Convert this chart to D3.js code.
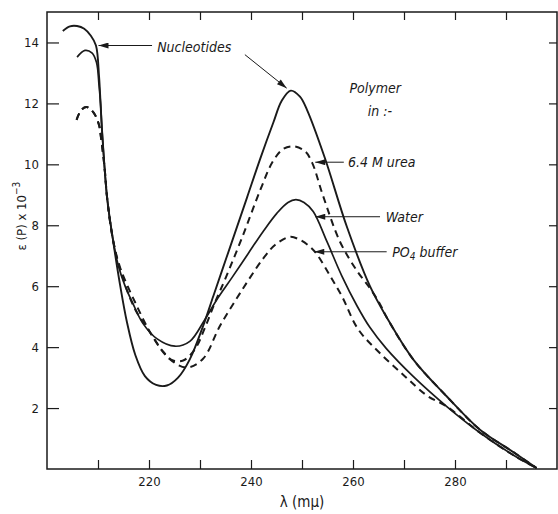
<!DOCTYPE html>
<html>
<head>
<meta charset="utf-8">
<script src="https://cdn.jsdelivr.net/npm/d3@7"></script>
<style>
    body { margin: 0; background: #fff; }
    svg { display: block; }
    text { font-family: "DejaVu Sans Condensed", "Liberation Sans Narrow", sans-serif; fill: #1a1a1a; }
</style>
</head>
<body>
<div id="chart"></div>
<script>
// wavelength (mμ) ticks and epsilon ticks
const wavelengthTicks = [210, 220, 230, 240, 250, 260, 270, 280, 290];
const wavelengthLabels = [220, 240, 260, 280];
const epsilonTicks = [2, 4, 6, 8, 10, 12, 14];

// [wavelength, ε(P) x 10^-3]
const nucleotides = [
    [203.1, 14.38], [204.5, 14.53], [205.9, 14.54], [207.3, 14.45], [208.6, 14.22],
    [209.6, 13.9], [210.2, 12.9], [210.5, 12.0], [210.8, 11.09], [211.8, 8.88], [212.9, 7.56],
    [214.3, 6.07], [215.7, 4.80], [217.3, 3.75], [219.2, 3.05], [221.4, 2.76],
    [223.5, 2.74], [225.7, 3.00], [228.0, 3.60], [230.6, 4.69], [232.6, 5.67],
    [234.5, 6.60], [236.2, 7.43], [239.2, 8.90], [241.8, 10.18], [244.4, 11.38],
    [246.0, 12.08], [247.8, 12.42], [249.6, 12.22], [251.0, 11.78], [254.5, 10.20],
    [258.8, 7.95], [263.3, 6.01], [266.6, 4.98], [271.8, 3.60], [278.4, 2.38],
    [284.9, 1.29], [291.4, 0.56], [296.0, 0.03]
];

const water = [
    [205.9, 13.52], [207.45, 13.74], [208.8, 13.66], [209.7, 13.35], [210.2, 12.6], [210.5, 12.0],
    [210.8, 11.09], [211.8, 8.88], [212.9, 7.56], [213.9, 6.73], [215.3, 6.01],
    [216.9, 5.41], [218.8, 4.78], [221.6, 4.27], [225.1, 4.03], [228.0, 4.19],
    [231.0, 4.92], [233.5, 5.61], [236.3, 6.29], [239.4, 7.06], [242.35, 7.79],
    [245.1, 8.40], [247.25, 8.75], [248.8, 8.84], [250.4, 8.75], [252.2, 8.45],
    [254.9, 7.46], [257.8, 6.34], [260.8, 5.35], [263.3, 4.65], [266.5, 3.96],
    [271.8, 3.04], [278.4, 2.05], [284.9, 1.19], [291.4, 0.46], [296.0, 0.03]
];

const urea = [
    [205.8, 11.46], [206.7, 11.78], [207.8, 11.88], [209.2, 11.68], [210.2, 11.29],
    [210.6, 10.86], [211.3, 9.87], [211.8, 8.88], [212.9, 7.56], [214.3, 6.57],
    [217.25, 5.25], [220.2, 4.49], [222.75, 3.86], [224.7, 3.56], [226.7, 3.56],
    [229.0, 3.93], [231.0, 4.65], [232.9, 5.45], [235.1, 6.30], [238.4, 7.66],
    [241.8, 9.15], [244.3, 10.10], [246.3, 10.50], [248.4, 10.59], [250.6, 10.43],
    [252.0, 10.05], [254.1, 8.98], [257.45, 7.46], [260.8, 6.50], [263.3, 5.94],
    [265.3, 5.41], [266.6, 4.98], [271.8, 3.60], [278.4, 2.38], [284.9, 1.29],
    [291.4, 0.56], [296.0, 0.03]
];

const phosphateBuffer = [
    [205.8, 11.46], [206.7, 11.78], [207.8, 11.88], [209.2, 11.68], [210.2, 11.29],
    [210.6, 10.86], [211.3, 9.87], [211.8, 8.88], [212.9, 7.56], [214.3, 6.63],
    [217.25, 5.48], [220.8, 4.32], [224.1, 3.60], [227.45, 3.33], [230.6, 3.62],
    [233.9, 4.69], [238.0, 5.81], [242.35, 6.90], [244.7, 7.35], [247.65, 7.62],
    [249.6, 7.52], [251.6, 7.29], [252.9, 7.05], [255.5, 6.34], [257.8, 5.68],
    [261.0, 4.59], [265.3, 3.80], [270.2, 3.04], [274.5, 2.41], [278.4, 2.05],
    [284.9, 1.19], [291.4, 0.46], [296.0, 0.03]
];

const width = 558;
const height = 514;
const margin = { top: 12, right: 1, bottom: 45, left: 47 };

const svg = d3.select("#chart").append("svg")
    .attr("width", width)
    .attr("height", height);

const x = d3.scaleLinear()
    .domain([200, 300])
    .range([margin.left, width - margin.right]);

const y = d3.scaleLinear()
    .domain([0, 15])
    .range([height - margin.bottom, margin.top]);

const ink = "#1a1a1a";

// frame
svg.append("rect")
    .attr("x", x(200))
    .attr("y", y(15))
    .attr("width", x(300) - x(200))
    .attr("height", y(0) - y(15))
    .attr("fill", "none")
    .attr("stroke", ink)
    .attr("stroke-width", 1.5);

svg.append("g")
    .attr("transform", `translate(0, ${y(0)})`)
    .call(d3.axisBottom(x).tickValues(wavelengthTicks).tickSize(-9).tickPadding(8)
        .tickFormat((d) => wavelengthLabels.includes(d) ? d : ""));

svg.append("g")
    .attr("transform", `translate(0, ${y(15)})`)
    .call(d3.axisTop(x).tickValues(wavelengthTicks).tickSize(-8).tickFormat(""));

svg.append("g")
    .attr("transform", `translate(${x(200)}, 0)`)
    .call(d3.axisLeft(y).tickValues(epsilonTicks).tickSize(-12).tickPadding(8));

svg.append("g")
    .attr("transform", `translate(${x(300)}, 0)`)
    .call(d3.axisRight(y).tickValues(epsilonTicks).tickSize(-8).tickFormat(""));

svg.selectAll(".domain").remove();
svg.selectAll(".tick line").attr("stroke", ink).attr("stroke-width", 1.2);
svg.selectAll(".tick text")
    .attr("font-size", 13)
    .attr("fill", ink)
    .style("font-family", "'DejaVu Sans Condensed', sans-serif");

// curves
const line = d3.line()
    .x((d) => x(d[0]))
    .y((d) => y(d[1]))
    .curve(d3.curveCatmullRom.alpha(0.5));

const series = [
    { data: water, dash: null, width: 1.7 },
    { data: phosphateBuffer, dash: "7,5", width: 2 },
    { data: urea, dash: "7,5", width: 2 },
    { data: nucleotides, dash: null, width: 1.9 }
];

svg.append("g")
    .selectAll("path")
    .data(series)
    .join("path")
    .attr("d", (d) => line(d.data))
    .attr("fill", "none")
    .attr("stroke", ink)
    .attr("stroke-width", (d) => d.width)
    .attr("stroke-dasharray", (d) => d.dash)
    .attr("stroke-linecap", "butt");

// arrow annotations
svg.append("defs").append("marker")
    .attr("id", "arrow")
    .attr("viewBox", "0 0 10 6")
    .attr("refX", 10)
    .attr("refY", 3)
    .attr("markerWidth", 11)
    .attr("markerHeight", 6)
    .attr("markerUnits", "userSpaceOnUse")
    .attr("orient", "auto")
    .append("path")
    .attr("d", "M0,0L10,3L0,6Z")
    .attr("fill", ink);

const arrows = [
    [[220.6, 13.9], [210.1, 13.9]],
    [[238.8, 13.6], [247.0, 12.5]],
    [[258.2, 10.07], [252.6, 10.07]],
    [[265.3, 8.28], [252.6, 8.28]],
    [[266.6, 7.13], [252.4, 7.13]]
];

svg.append("g")
    .selectAll("line")
    .data(arrows)
    .join("line")
    .attr("x1", (d) => x(d[0][0]))
    .attr("y1", (d) => y(d[0][1]))
    .attr("x2", (d) => x(d[1][0]))
    .attr("y2", (d) => y(d[1][1]))
    .attr("stroke", ink)
    .attr("stroke-width", 1)
    .attr("marker-end", "url(#arrow)");

const note = svg.append("g")
    .attr("font-size", 14)
    .attr("font-style", "italic");

note.append("text").attr("x", x(221.6)).attr("y", y(13.7)).text("Nucleotides");
note.append("text").attr("x", x(259.3)).attr("y", y(12.35)).text("Polymer");
note.append("text").attr("x", x(262.9)).attr("y", y(11.6)).text("in :-");
note.append("text").attr("x", x(259.0)).attr("y", y(9.9)).text("6.4 M  urea");
note.append("text").attr("x", x(266.4)).attr("y", y(8.1)).text("Water");

const po4 = note.append("text").attr("x", x(267.7)).attr("y", y(6.95));
po4.append("tspan").text("PO");
po4.append("tspan").attr("font-size", 10).attr("dy", 3).text("4");
po4.append("tspan").attr("dy", -3).text(" buffer");

// axis titles
svg.append("text")
    .attr("x", x(250))
    .attr("y", height - 7)
    .attr("text-anchor", "middle")
    .attr("font-size", 15)
    .text("λ (mμ)");

const yTitle = svg.append("text")
    .attr("transform", `translate(26, ${y(8.3)}) rotate(-90)`)
    .attr("text-anchor", "middle")
    .attr("font-size", 13);
yTitle.append("tspan").text("ε (P) x 10");
yTitle.append("tspan").attr("font-size", 10).attr("dy", -6).text("−3");
</script>
</body>
</html>
